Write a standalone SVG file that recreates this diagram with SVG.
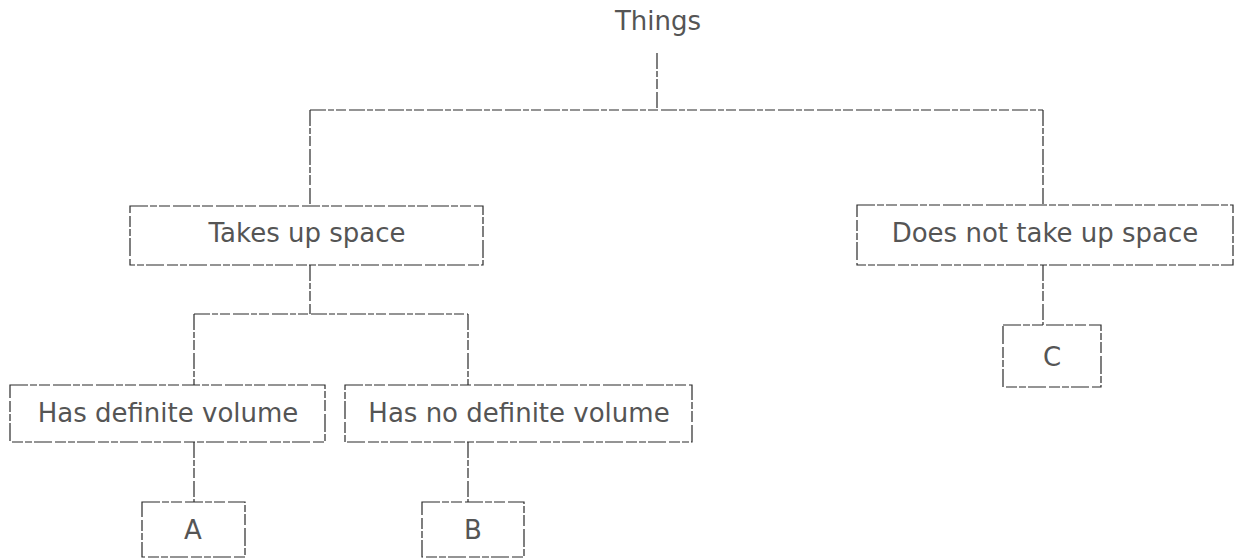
<svg xmlns="http://www.w3.org/2000/svg" width="1240" height="560" viewBox="0 0 1240 560">
<style>
.bg{fill:#ffffff}
.box{fill:none;stroke:#2a2a2a;stroke-width:1.2;stroke-dasharray:18 2 7 2 11 3}
.ln{fill:none;stroke:#2a2a2a;stroke-width:1.2;stroke-dasharray:16 2 6 2 10 3}
.t{font-family:"DejaVu Sans","Liberation Sans",sans-serif;font-size:26px;fill:#555;text-anchor:middle}
</style>
<rect class="bg" x="0" y="0" width="1240" height="560"/>
<g id="connectors">
<path class="ln" d="M657 53 V110 M310 110 H1043 M310 110 V206 M1043 110 V205"/>
<path class="ln" d="M310 265 V314 M194 314 H468 M194 314 V385 M468 314 V385"/>
<path class="ln" d="M194 442 V502 M468 442 V502 M1043 265 V325"/>
</g>
<g id="things"><text class="t" x="658" y="30">Things</text></g>
<g id="takes"><rect class="box" x="130" y="206" width="353" height="59"/><text class="t" x="307" y="242">Takes up space</text></g>
<g id="doesnot"><rect class="box" x="857" y="205" width="376" height="60"/><text class="t" x="1045" y="242">Does not take up space</text></g>
<g id="hasdef"><rect class="box" x="10" y="385" width="315" height="57"/><text class="t" x="168" y="422">Has definite volume</text></g>
<g id="hasnodef"><rect class="box" x="345" y="385" width="347" height="57"/><text class="t" x="519" y="422">Has no definite volume</text></g>
<g id="a"><rect class="box" x="142" y="502" width="103" height="55"/><text class="t" x="193" y="539">A</text></g>
<g id="b"><rect class="box" x="422" y="502" width="102" height="55"/><text class="t" x="473" y="539">B</text></g>
<g id="c"><rect class="box" x="1003" y="325" width="98" height="62"/><text class="t" x="1052" y="366">C</text></g>
</svg>
